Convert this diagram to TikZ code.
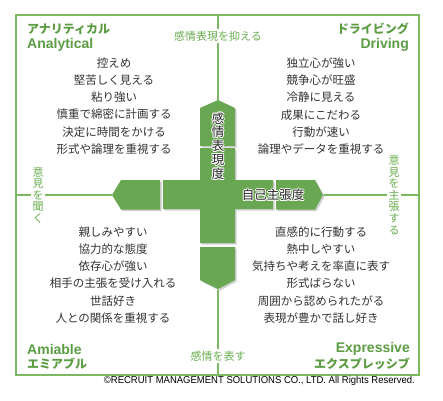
\documentclass[tikz,border=0pt]{standalone}
\usepackage{fontspec}
\usepackage{graphicx}
\setmainfont{Noto Sans CJK JP}
\newfontfamily\lat{Liberation Sans}
\newfontfamily\jp{Noto Sans CJK JP}
\definecolor{lineg}{HTML}{7DB862}
\definecolor{crossg}{HTML}{69A752}
\definecolor{labg}{HTML}{5C9D43}
\definecolor{axg}{HTML}{6AAE50}
\definecolor{bodyc}{HTML}{333333}
\definecolor{shadowc}{HTML}{D0D0D0}
\newcommand\hl[3]{\rlap{\kern#1\raise#2\hbox{\textcolor{white}{#3}}}}
\newcommand\halo[1]{\hl{1pt}{0pt}{#1}\hl{-1pt}{0pt}{#1}\hl{0pt}{1pt}{#1}\hl{0pt}{-1pt}{#1}\hl{.7pt}{.7pt}{#1}\hl{-.7pt}{.7pt}{#1}\hl{.7pt}{-.7pt}{#1}\hl{-.7pt}{-.7pt}{#1}#1}
\begin{document}
\begin{tikzpicture}[x=1pt,y=-1pt,
  frame/.style={draw=lineg, line width=1.4pt},
  axis/.style={draw=lineg, line width=1.2pt},
  body/.style={text=bodyc, align=center, inner sep=0pt, font=\jp\fontsize{11.5}{17.2}\selectfont},
  quadjp/.style={text=labg, inner sep=0pt, font=\jp\bfseries\fontsize{12}{12}\selectfont},
  quaden/.style={text=labg, inner sep=0pt, font=\lat\bfseries\fontsize{14}{14}\selectfont},
  axlab/.style={text=axg, fill=white, inner sep=1.5pt, font=\jp\fontsize{11}{11}\selectfont},
  vlab/.style={text=axg, fill=white, inner sep=1.5pt, align=center, font=\jp\fontsize{11}{11.6}\selectfont},
  crosslab/.style={text=black!85, inner sep=0pt, align=center, font=\jp\fontsize{12.5}{12.5}\selectfont}]
\useasboundingbox (0,0) rectangle (443,400);
\fill[white] (0,0) rectangle (443,400);
% frame
\coordinate (tl) at (16,15);
\coordinate (br) at (419,375);
\draw[frame] (tl) rectangle (br);
\coordinate (topmid) at (218,15);
\coordinate (botmid) at (218,375);
\coordinate (leftmid) at (16,195);
\coordinate (rightmid) at (419,195);
\coordinate (ttip) at (218,100);
\coordinate (btip) at (218,289);
\coordinate (ltip) at (112,195);
\coordinate (rtip) at (323,195);
% axes
\draw[axis] (topmid) -- (ttip);
\draw[axis] (botmid) -- (btip);
\draw[axis] (leftmid) -- (ltip);
\draw[axis] (rightmid) -- (rtip);
% cross pieces with shadow
\foreach \s/\c in {1.6/shadowc, 0/crossg}{
  \begin{scope}[shift={(\s,\s)}]
  \fill[\c] (200,146) -- (200,108) -- (218,100) -- (235,108) -- (235,146) -- cycle;
  \fill[\c] (200,148) -- (235,148) -- (235,180) -- (273,180) -- (273,209) -- (235,209)
     -- (235,243) -- (200,243) -- (200,209) -- (163,209) -- (163,180) -- (200,180) -- cycle;
  \fill[\c] (160,180) -- (121,180) -- (112,195) -- (121,209.5) -- (160,209.5) -- cycle;
  \fill[\c] (276,180) -- (315,180) -- (323,195) -- (315,209.5) -- (276,209.5) -- cycle;
  \fill[\c] (200,247) -- (235,247) -- (235,280) -- (218,289) -- (200,280) -- cycle;
  \end{scope}
}
\node[crosslab] (emo) at (218,146) {\halo{感}\\[-0.5pt]\halo{情}\\[-0.5pt]\halo{表}\\[-0.5pt]\halo{現}\\[-0.5pt]\halo{度}};
\node[crosslab] (ass) at (273,195) {\halo{自己主張度}};
% axis labels
\node[axlab] (suppress) at (218,36) {感情表現を抑える};
\node[axlab] (express) at (218,356) {感情を表す};
\node[vlab] (listen) at (38,195) {意\\見\\を\\聞\\く};
\node[vlab] (assert) at (394,195) {意\\見\\を\\主\\張\\す\\る};
% quadrant labels
\node[quadjp, anchor=west] (anjp) at (27,29) {アナリティカル};
\node[quaden, anchor=west] (anen) at (27,45) {Analytical};
\node[quadjp, anchor=east] (drjp) at (409,29) {ドライビング};
\node[quaden, anchor=east] (dren) at (409,45) {Driving};
\node[quaden, anchor=west] (amen) at (27,349) {Amiable};
\node[quadjp, anchor=west] (amjp) at (27,364) {エミアブル};
\node[quaden, anchor=east] (exen) at (410,349) {Expressive};
\node[quadjp, anchor=east] (exjp) at (410,364) {エクスプレッシブ};
% body texts
\node[body] (q1) at (114,106) {控えめ\\堅苦しく見える\\粘り強い\\慎重で綿密に計画する\\決定に時間をかける\\形式や論理を重視する};
\node[body] (q2) at (321,106) {独立心が強い\\競争心が旺盛\\冷静に見える\\成果にこだわる\\行動が速い\\論理やデータを重視する};
\node[body] (q3) at (113,275) {親しみやすい\\協力的な態度\\依存心が強い\\相手の主張を受け入れる\\世話好き\\人との関係を重視する};
\node[body] (q4) at (321,275) {直感的に行動する\\熱中しやすい\\気持ちや考えを率直に表す\\形式ばらない\\周囲から認められたがる\\表現が豊かで話し好き};
% copyright
\node[inner sep=0pt, anchor=east, font=\lat\fontsize{10}{10}\selectfont, text=black] (copy) at (415,381) {\scalebox{0.95}[1]{\textcopyright RECRUIT MANAGEMENT SOLUTIONS CO., LTD. All Rights Reserved.}};
\end{tikzpicture}
\end{document}
